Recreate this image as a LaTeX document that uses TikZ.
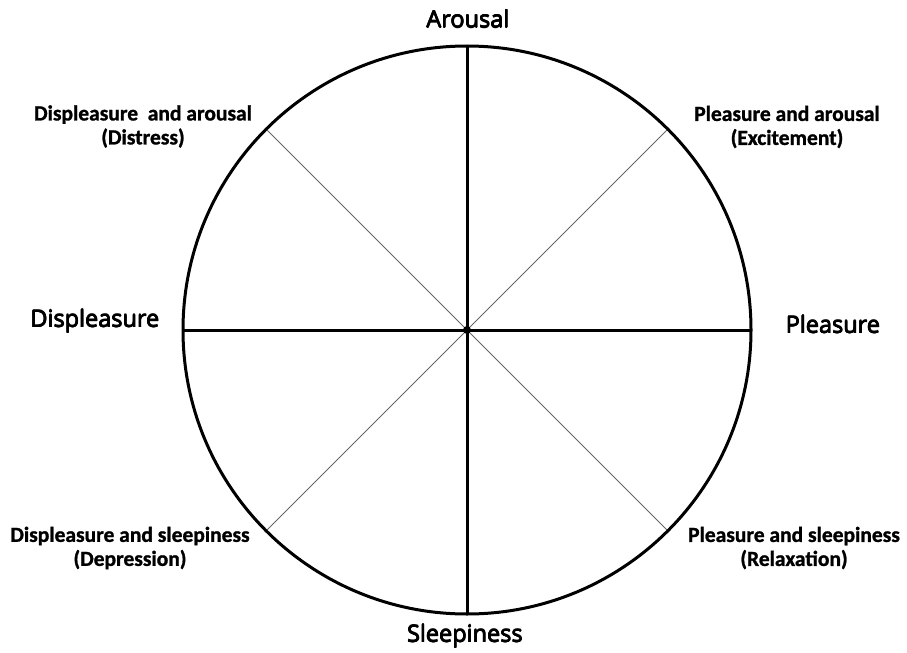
\documentclass[tikz,border=0pt]{standalone}
\usepackage{fontspec}
\setmainfont{Open Sans}
\newfontfamily\lblfont{Carlito}[BoldFeatures={FakeBold=1.2}]
\newcommand\heavytext[1]{\leavevmode\rlap{#1}\rlap{\kern0.7bp#1}\rlap{\kern0.35bp\raisebox{0.35bp}{#1}}\rlap{\kern0.35bp\raisebox{-0.3bp}{#1}}#1\kern0.7bp}
\begin{document}
\begin{tikzpicture}[x=1bp,y=-1bp,
  axis/.style={line width=3bp,black},
  diag/.style={line width=0.9bp,black!60},
  mainlbl/.style={font=\fontsize{23.5bp}{27bp}\selectfont,inner sep=0pt,anchor=base},
  sublbl/.style={font=\lblfont\bfseries\fontsize{21.5bp}{24bp}\selectfont,inner sep=0pt,align=center}]
\useasboundingbox (0,0) rectangle (907,653);
\coordinate (c) at (467,330);
\coordinate (n) at (467,47);
\coordinate (s) at (467,613);
\coordinate (w) at (183,330);
\coordinate (e) at (751,330);
\coordinate (ne) at (668,129);
\coordinate (nw) at (266,129);
\coordinate (sw) at (266,531);
\coordinate (se) at (668,531);
\draw[diag] (nw) -- (se);
\draw[diag] (ne) -- (sw);
\draw[axis] (n) -- (s);
\draw[axis] (w) -- (e);
\draw[axis] (c) circle[radius=284];
\fill (c) circle[radius=4];
\node[mainlbl] (ar) at (468,28) {\heavytext{Arousal}};
\node[mainlbl] (sl) at (465,642) {\heavytext{Sleepiness}};
\node[mainlbl] (dp) at (95,327) {\heavytext{Displeasure}};
\node[mainlbl] (pl) at (833,333) {\heavytext{Pleasure}};
\node[sublbl] (da) at (143,126.5) {Displeasure\ \ and arousal\\(Distress)};
\node[sublbl] (pa) at (787,127) {Pleasure and arousal\\(Excitement)};
\node[sublbl] (ds) at (130,548) {Displeasure and sleepiness\\(Depression)};
\node[sublbl] (ps) at (794,548) {Pleasure and sleepiness\\(Relaxation)};
\end{tikzpicture}
\end{document}
